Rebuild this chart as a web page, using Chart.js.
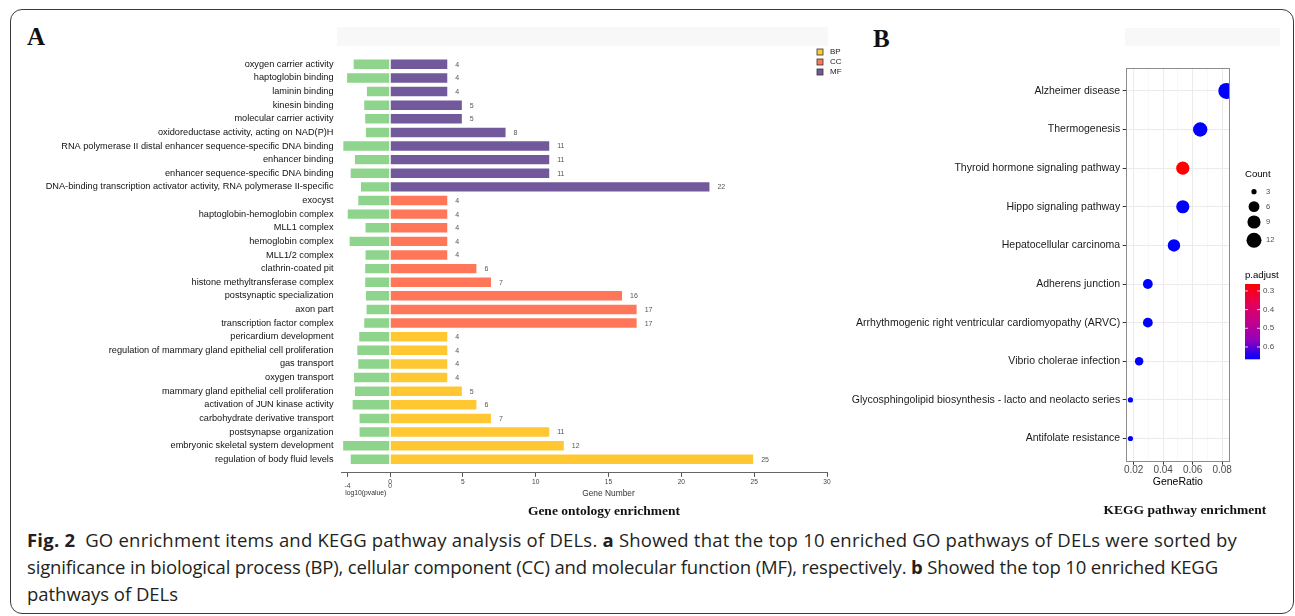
<!DOCTYPE html>
<html>
<head>
<meta charset="utf-8">
<script src="https://cdn.jsdelivr.net/npm/chart.js@4.4.1/dist/chart.umd.min.js"></script>
<style>
  html, body { margin: 0; padding: 0; background: #fff; }
  body { width: 1295px; height: 616px; position: relative; overflow: hidden; font-family: 'Liberation Sans', Arial, sans-serif; }
  #frame { position: absolute; left: 10px; top: 9px; width: 1284px; height: 605px; box-sizing: border-box; border: 1.5px solid #3c3c3c; border-radius: 12px; }
  .shade { position: absolute; background: #f8f8f8; }
  .panel { position: absolute; font-family: 'Liberation Serif', 'Times New Roman', serif; font-weight: bold; font-size: 25px; line-height: 25px; color: #111; }
  .subtitle { position: absolute; width: 300px; text-align: center; font-family: 'Liberation Serif', 'Times New Roman', serif; font-weight: bold; font-size: 13.5px; line-height: 16px; color: #111; }
  canvas { position: absolute; }
  #caption { position: absolute; left: 27px; top: 526px; font-family: 'Open Sans', 'Noto Sans', sans-serif; font-size: 18.5px; line-height: 27px; color: #231f20; white-space: nowrap; }
  #caption div { display: block; }
  #caption span.fit { display: inline-block; }
  #caption b { font-weight: bold; }
</style>
</head>
<body>
<div id="frame"></div>
<div class="shade" style="left:337px;top:27px;width:491px;height:19px;"></div>
<div class="shade" style="left:1125px;top:28px;width:155px;height:18px;"></div>
<div class="panel" style="left:27px;top:24px;">A</div>
<div class="panel" style="left:873px;top:26px;">B</div>

<canvas id="goChart" width="860" height="470" style="left:0;top:40px;"></canvas>
<canvas id="keggChart" width="495" height="450" style="left:800px;top:50px;"></canvas>

<div class="subtitle" style="left:454px;top:503px;">Gene ontology enrichment</div>
<div class="subtitle" style="left:1035px;top:502px;">KEGG pathway enrichment</div>

<div id="caption">
  <div><span class="fit" data-w="1210"><b>Fig. 2</b>&nbsp; GO enrichment items and KEGG pathway analysis of DELs. <b>a</b> Showed that the top 10 enriched GO pathways of DELs were sorted by</span></div>
  <div><span class="fit" data-w="1191">significance in biological process (BP), cellular component (CC) and molecular function (MF), respectively. <b>b</b> Showed the top 10 enriched KEGG</span></div>
  <div><span class="fit" data-w="151">pathways of DELs</span></div>
</div>

<script>
// ---- GO enrichment data (top to bottom: MF, CC, BP) ----
const mfTerms = ['oxygen carrier activity', 'haptoglobin binding', 'laminin binding', 'kinesin binding',
  'molecular carrier activity', 'oxidoreductase activity, acting on NAD(P)H',
  'RNA polymerase II distal enhancer sequence-specific DNA binding', 'enhancer binding',
  'enhancer sequence-specific DNA binding',
  'DNA-binding transcription activator activity, RNA polymerase II-specific'];
const mfCounts = [4, 4, 4, 5, 5, 8, 11, 11, 11, 22];
const mfLogP = [-3.50, -4.12, -2.26, -2.51, -2.42, -2.35, -4.47, -3.38, -3.78, -2.82];

const ccTerms = ['exocyst', 'haptoglobin-hemoglobin complex', 'MLL1 complex', 'hemoglobin complex',
  'MLL1/2 complex', 'clathrin-coated pit', 'histone methyltransferase complex',
  'postsynaptic specialization', 'axon part', 'transcription factor complex'];
const ccCounts = [4, 4, 4, 4, 4, 6, 7, 16, 17, 17];
const ccLogP = [-3.07, -4.06, -2.39, -3.88, -2.39, -2.42, -2.42, -2.35, -2.29, -2.51];

const bpTerms = ['pericardium development', 'regulation of mammary gland epithelial cell proliferation',
  'gas transport', 'oxygen transport', 'mammary gland epithelial cell proliferation',
  'activation of JUN kinase activity', 'carbohydrate derivative transport',
  'postsynapse organization', 'embryonic skeletal system development', 'regulation of body fluid levels'];
const bpCounts = [4, 4, 4, 4, 5, 6, 7, 11, 12, 25];
const bpLogP = [-2.98, -3.16, -3.07, -3.47, -3.38, -3.60, -2.95, -2.95, -4.49, -3.78];

const geneTicks = [0, 5, 10, 15, 20, 25, 30];
const logPTicks = [-4, 0];

// ---- KEGG enrichment data ----
const keggTerms = ['Alzheimer disease', 'Thermogenesis', 'Thyroid hormone signaling pathway',
  'Hippo signaling pathway', 'Hepatocellular carcinoma', 'Adherens junction',
  'Arrhythmogenic right ventricular cardiomyopathy (ARVC)', 'Vibrio cholerae infection',
  'Glycosphingolipid biosynthesis - lacto and neolacto series', 'Antifolate resistance'];
const keggRatio = [0.0828, 0.0651, 0.0533, 0.0533, 0.0473, 0.0296, 0.0296, 0.0237, 0.0178, 0.0178];
const keggCount = [14, 11, 9, 9, 8, 5, 5, 4, 3, 3];
const keggPadj = [0.666, 0.666, 0.263, 0.666, 0.666, 0.666, 0.666, 0.666, 0.666, 0.666];

const ratioTicks = [0.02, 0.04, 0.06, 0.08];
const ratioMinorTicks = [0.03, 0.05, 0.07];
const countLegend = [3, 6, 9, 12];
const padjTicks = [0.3, 0.4, 0.5, 0.6];

const FONT = "'Liberation Sans', Arial, sans-serif";
Chart.defaults.font.family = FONT;
Chart.defaults.animation = false;

// colours
const colGreen = '#8fd48c';
const colBP = '#ffc832';
const colCC = '#ff7658';
const colMF = '#71599c';

// stretch each caption line to the width it has in the figure
document.querySelectorAll('#caption span.fit').forEach(span => {
  const target = Number(span.dataset.w);
  const chars = span.textContent.length;
  const w = span.getBoundingClientRect().width;
  span.style.letterSpacing = ((target - w) / chars).toFixed(3) + 'px';
});

// =============== GO chart ===============
const goTerms = mfTerms.concat(ccTerms, bpTerms);
const allLogP = mfLogP.concat(ccLogP, bpLogP);

function rows(values, offset) {
  return values.map((v, i) => ({ x: v, y: offset + i }));
}

// numbers to the right of each gene-count bar
const valueLabels = {
  id: 'valueLabels',
  afterDatasetsDraw(chart) {
    const ctx = chart.ctx;
    ctx.save();
    ctx.font = '7px ' + FONT;
    ctx.fillStyle = '#555';
    ctx.textBaseline = 'middle';
    chart.data.datasets.forEach((ds, di) => {
      if (ds.xAxisID !== 'xg') return;
      chart.getDatasetMeta(di).data.forEach((bar, j) => {
        ctx.fillText(String(ds.data[j].x), bar.x + 7, bar.y + 0.5);
      });
    });
    ctx.restore();
  }
};

// small BP / CC / MF key in the top right corner
const goLegend = {
  id: 'goLegend',
  afterDraw(chart) {
    const ctx = chart.ctx;
    const x = chart.chartArea.right - 10;
    let y = 12;
    ctx.save();
    ctx.font = '8px ' + FONT;
    ctx.textBaseline = 'middle';
    chart.data.datasets.forEach(ds => {
      if (ds.xAxisID !== 'xg') return;
      ctx.fillStyle = ds.backgroundColor;
      ctx.fillRect(x, y - 3, 6, 6);
      ctx.strokeStyle = '#333';
      ctx.lineWidth = 0.8;
      ctx.strokeRect(x, y - 3, 6, 6);
      ctx.fillStyle = '#222';
      ctx.fillText(ds.label, x + 13, y);
      y += 10;
    });
    ctx.restore();
  }
};

const bottomAxis = {
  type: 'linear',
  position: 'bottom',
  stack: 'go',
  grid: { drawOnChartArea: false, drawTicks: true, tickLength: 4, tickColor: '#555', color: '#555' },
  border: { display: true, color: '#666', width: 1 },
  afterFit: s => { s.height = 30; }
};

new Chart(document.getElementById('goChart'), {
  type: 'bar',
  data: {
    datasets: [
      { label: 'log10(pvalue)', data: rows(allLogP, 0), xAxisID: 'xp', backgroundColor: colGreen,
        borderColor: 'rgba(255,255,255,0.55)', borderWidth: 1, grouped: false,
        barPercentage: 0.84, categoryPercentage: 1 },
      { label: 'BP', data: rows(bpCounts, 20), xAxisID: 'xg', backgroundColor: colBP,
        borderColor: 'rgba(255,255,255,0.45)', borderWidth: 1, grouped: false,
        barPercentage: 0.84, categoryPercentage: 1 },
      { label: 'CC', data: rows(ccCounts, 10), xAxisID: 'xg', backgroundColor: colCC,
        borderColor: 'rgba(255,255,255,0.45)', borderWidth: 1, grouped: false,
        barPercentage: 0.84, categoryPercentage: 1 },
      { label: 'MF', data: rows(mfCounts, 0), xAxisID: 'xg', backgroundColor: colMF,
        borderColor: 'rgba(255,255,255,0.45)', borderWidth: 1, grouped: false,
        barPercentage: 0.84, categoryPercentage: 1 }
    ]
  },
  options: {
    responsive: false,
    devicePixelRatio: 1,
    indexAxis: 'y',
    layout: { padding: { left: 0, right: 33, top: 17.5, bottom: 7.1 } },
    plugins: { legend: { display: false }, tooltip: { enabled: false } },
    scales: {
      y: {
        type: 'linear',
        reverse: true,
        offset: false,
        min: -0.5,
        max: 30,
        afterBuildTicks: s => { s.ticks = goTerms.map((t, i) => ({ value: i })); },
        afterFit: s => { s.width = 341.5; },
        ticks: { autoSkip: false, callback: v => goTerms[v], font: { size: 9.2 }, color: '#111', padding: 8 },
        grid: { display: false, drawTicks: false },
        border: { display: false }
      },
      xp: Object.assign({}, bottomAxis, {
        stackWeight: 48.5,
        min: -4.55,
        max: 0,
        afterBuildTicks: s => { s.ticks = logPTicks.map(v => ({ value: v })); },
        ticks: { font: { size: 6.6 }, color: '#444', padding: 5, callback: v => String(v) },
        title: { display: true, text: 'log10(pvalue)', font: { size: 6.8 }, color: '#333', padding: { top: 0, bottom: 5.5 } }
      }),
      xg: Object.assign({}, bottomAxis, {
        stackWeight: 437,
        min: 0,
        max: 30,
        afterBuildTicks: s => { s.ticks = geneTicks.map(v => ({ value: v })); },
        ticks: { font: { size: 6.6 }, color: '#444', padding: 1 },
        title: { display: true, text: 'Gene Number', font: { size: 8.4 }, color: '#333', padding: { top: 0, bottom: 4.5 } }
      })
    }
  },
  plugins: [valueLabels, goLegend]
});

// =============== KEGG chart ===============
const countMin = Math.min(...keggCount);
const countMax = Math.max(...keggCount);
const padjMin = Math.min(...keggPadj);
const padjMax = Math.max(...keggPadj);

// point size ~ sqrt of count, like ggplot's area scale
function bubbleRadius(n) {
  return 2.6 + 5.4 * Math.sqrt(Math.max(0, n - countMin) / (countMax - countMin));
}

// red (low p.adjust) -> blue (high p.adjust)
const gradStops = [[255, 0, 0], [229, 0, 86], [196, 0, 140], [146, 0, 190], [0, 0, 255]];
function padjColor(p) {
  const t = Math.min(1, Math.max(0, (p - padjMin) / (padjMax - padjMin)));
  const k = t * (gradStops.length - 1);
  const i = Math.min(gradStops.length - 2, Math.floor(k));
  const f = k - i;
  const c = gradStops[i].map((a, j) => Math.round(a + (gradStops[i + 1][j] - a) * f));
  return 'rgb(' + c.join(',') + ')';
}

const panelBorder = {
  id: 'panelBorder',
  afterDatasetsDraw(chart) {
    const a = chart.chartArea;
    const ctx = chart.ctx;
    ctx.save();
    ctx.strokeStyle = '#8c8c8c';
    ctx.lineWidth = 1;
    ctx.strokeRect(Math.round(a.left) + 0.5, Math.round(a.top) + 0.5, Math.round(a.width) - 1, Math.round(a.height) - 1);
    ctx.restore();
  }
};

// Count key and p.adjust colour bar on the right
const keggLegends = {
  id: 'keggLegends',
  afterDraw(chart) {
    const ctx = chart.ctx;
    const x0 = chart.chartArea.right + 15;
    ctx.save();
    ctx.textBaseline = 'middle';
    ctx.fillStyle = '#000';
    ctx.font = '9.6px ' + FONT;
    ctx.fillText('Count', x0, 124.3);
    const keyY = [141.7, 156.7, 172, 190.3];
    countLegend.forEach((n, i) => {
      ctx.fillStyle = '#000';
      ctx.beginPath();
      ctx.arc(x0 + 9, keyY[i], bubbleRadius(n), 0, Math.PI * 2);
      ctx.fill();
      ctx.fillStyle = '#4d4d4d';
      ctx.font = '7.5px ' + FONT;
      ctx.fillText(String(n), x0 + 21, keyY[i]);
    });

    ctx.fillStyle = '#000';
    ctx.font = '9.6px ' + FONT;
    ctx.fillText('p.adjust', x0, 225);
    const top = 234, h = 75.3, w = 15;
    const g = ctx.createLinearGradient(0, top, 0, top + h);
    gradStops.forEach((c, i) => g.addColorStop(i / (gradStops.length - 1), 'rgb(' + c.join(',') + ')'));
    ctx.fillStyle = g;
    ctx.fillRect(x0, top, w, h);
    ctx.font = '8px ' + FONT;
    padjTicks.forEach(v => {
      const y = top + (v - padjMin) / (padjMax - padjMin) * h;
      ctx.strokeStyle = '#fff';
      ctx.lineWidth = 0.8;
      ctx.beginPath();
      ctx.moveTo(x0, y); ctx.lineTo(x0 + 3, y);
      ctx.moveTo(x0 + w - 3, y); ctx.lineTo(x0 + w, y);
      ctx.stroke();
      ctx.fillStyle = '#4d4d4d';
      ctx.fillText(v.toFixed(1), x0 + w + 3, y);
    });
    ctx.restore();
  }
};

const isMajor = v => ratioTicks.some(t => Math.abs(t - v) < 1e-9);

new Chart(document.getElementById('keggChart'), {
  type: 'bubble',
  data: {
    datasets: [{
      label: 'KEGG',
      data: keggTerms.map((t, i) => ({ x: keggRatio[i], y: i, r: bubbleRadius(keggCount[i]) })),
      backgroundColor: keggPadj.map(padjColor),
      borderWidth: 0,
      clip: 0
    }]
  },
  options: {
    responsive: false,
    devicePixelRatio: 1,
    layout: { padding: { left: 0, right: 65, top: 17.7, bottom: 8.3 } },
    plugins: { legend: { display: false }, tooltip: { enabled: false } },
    scales: {
      x: {
        type: 'linear',
        min: 0.0146,
        max: 0.0853,
        afterBuildTicks: s => {
          s.ticks = ratioTicks.concat(ratioMinorTicks).sort((a, b) => a - b).map(v => ({ value: v }));
        },
        afterFit: s => { s.height = 30; },
        ticks: { autoSkip: false, maxRotation: 0, font: { size: 10 }, color: '#4d4d4d', padding: 0,
          callback: v => isMajor(v) ? v.toFixed(2) : '' },
        grid: {
          color: c => (c.tick && isMajor(c.tick.value)) ? '#ebebeb' : '#f4f4f4',
          lineWidth: c => (c.tick && isMajor(c.tick.value)) ? 1 : 0.6,
          tickColor: c => (c.tick && isMajor(c.tick.value)) ? '#333' : 'rgba(0,0,0,0)',
          tickLength: 3
        },
        border: { display: false },
        title: { display: true, text: 'GeneRatio', font: { size: 10.5 }, color: '#000', padding: { top: 0, bottom: 3 } }
      },
      y: {
        type: 'linear',
        reverse: true,
        min: -0.6,
        max: 9.6,
        afterBuildTicks: s => { s.ticks = keggTerms.map((t, i) => ({ value: i })); },
        afterFit: s => { s.width = 325.7; },
        ticks: { autoSkip: false, callback: v => keggTerms[v], font: { size: 10.5 }, color: '#1a1a1a', padding: 2.5 },
        grid: { color: '#ebebeb', tickColor: '#333', tickLength: 3 },
        border: { display: false }
      }
    }
  },
  plugins: [panelBorder, keggLegends]
});
</script>
</body>
</html>
